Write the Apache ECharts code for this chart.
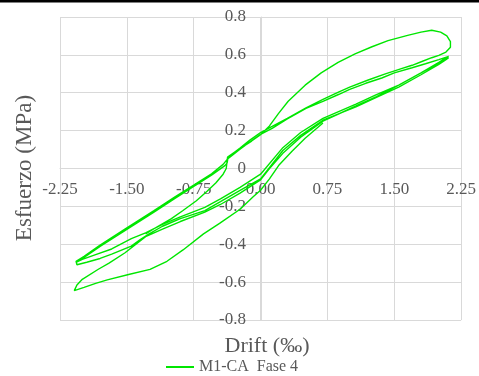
<!DOCTYPE html>
<html>
<head>
<meta charset="utf-8">
<script src="https://cdn.jsdelivr.net/npm/echarts@6/dist/echarts.min.js"></script>
<style>html,body{margin:0;padding:0;background:#fff;}#c{width:479px;height:376px;}</style>
</head>
<body>
<div id="c"></div>
<script>
// Tick settings
const xTicks = [-2.25, -1.50, -0.75, 0.00, 0.75, 1.50, 2.25];
const yTicks = [-0.8, -0.6, -0.4, -0.2, 0, 0.2, 0.4, 0.6, 0.8];
const seriesName = 'M1-CA  Fase 4';

// Hysteresis path segments [drift (‰), stress (MPa)]
const segStart = [[-1.29,-0.345],[-1.15,-0.305],[-1.0,-0.265],[-0.87,-0.222],[-0.72,-0.17],[-0.6,-0.12],[-0.5,-0.075],[-0.42,-0.03],[-0.385,0.0],[-0.378,0.03]];
const segTop = [[-0.37,0.06],[-0.25,0.1],[-0.1,0.145],[0.0,0.178],[0.1,0.225],[0.2,0.29],[0.31,0.355],[0.5,0.44],[0.68,0.505],[0.87,0.56],[1.06,0.605],[1.25,0.643],[1.43,0.675],[1.65,0.703],[1.8,0.72],[1.92,0.73],[2.02,0.72],[2.09,0.70],[2.13,0.67],[2.13,0.64],[2.08,0.615],[2.0,0.597]];
const segMid1 = [[1.92,0.585],[1.81,0.565],[1.7,0.545],[1.58,0.527],[1.4,0.5],[1.2,0.466],[1.0,0.43],[0.88,0.405],[0.7,0.365],[0.51,0.32],[0.3,0.265],[0.13,0.222],[0.0,0.19],[-0.12,0.15],[-0.234,0.107],[-0.33,0.072],[-0.365,0.058],[-0.375,0.03]];
const segUp1 = [[-0.40,0.015],[-0.55,-0.035],[-0.75,-0.095],[-0.96,-0.158],[-1.2,-0.232],[-1.5,-0.322],[-1.8,-0.412],[-1.98,-0.47],[-2.07,-0.495],[-2.09,-0.505]];
const segLensA = [[-2.05,-0.5],[-2.0,-0.48],[-1.85,-0.455],[-1.67,-0.425],[-1.45,-0.37],[-1.29,-0.34],[-1.1,-0.295],[-0.9,-0.255],[-0.625,-0.205],[-0.45,-0.16],[-0.23,-0.1],[0.0,-0.03],[0.25,0.11],[0.45,0.19],[0.7,0.265],[1.07,0.34],[1.3,0.39],[1.55,0.44],[1.8,0.505],[2.0,0.56],[2.08,0.585],[2.11,0.592]];
const segMid2 = [[2.09,0.59],[2.0,0.575],[1.85,0.553],[1.7,0.532],[1.5,0.505],[1.36,0.478],[1.18,0.45],[1.0,0.418],[0.88,0.392],[0.7,0.355],[0.51,0.318],[0.3,0.262],[0.13,0.212],[0.0,0.18],[-0.12,0.14],[-0.234,0.1],[-0.33,0.065],[-0.37,0.05]];
const segUp2 = [[-0.42,0.022],[-0.55,-0.028],[-0.75,-0.088],[-0.96,-0.15],[-1.2,-0.224],[-1.5,-0.314],[-1.8,-0.404],[-1.98,-0.464],[-2.07,-0.49],[-2.09,-0.5]];
const segLensB = [[-2.06,-0.508],[-1.95,-0.495],[-1.8,-0.475],[-1.67,-0.452],[-1.45,-0.41],[-1.35,-0.375],[-1.25,-0.345],[-1.1,-0.305],[-0.9,-0.265],[-0.625,-0.222],[-0.45,-0.175],[-0.23,-0.115],[0.0,-0.055],[0.25,0.095],[0.45,0.175],[0.7,0.255],[1.07,0.325],[1.3,0.375],[1.55,0.43],[1.8,0.495],[2.0,0.55],[2.08,0.575],[2.11,0.585]];
const segDown = [[2.07,0.575],[2.0,0.557],[1.8,0.505],[1.55,0.44],[1.3,0.38],[1.07,0.33],[0.7,0.25],[0.45,0.165],[0.25,0.08],[0.1,0.0],[0.0,-0.06],[-0.23,-0.13],[-0.45,-0.19],[-0.625,-0.23],[-0.9,-0.28],[-1.1,-0.32],[-1.29,-0.36],[-1.52,-0.445],[-1.7,-0.5],[-1.82,-0.532],[-2.0,-0.585],[-2.06,-0.615],[-2.09,-0.645]];
const segBottom = [[-2.08,-0.648],[-1.98,-0.628],[-1.85,-0.607],[-1.72,-0.588],[-1.48,-0.56],[-1.24,-0.533],[-1.05,-0.49],[-0.87,-0.43],[-0.64,-0.345],[-0.46,-0.29],[-0.23,-0.215],[-0.086,-0.15],[0.0,-0.115],[0.1,-0.055],[0.21,0.02],[0.35,0.09],[0.5,0.16],[0.7,0.24]];

const pathData = [].concat(segStart, segTop, segMid1, segUp1, segLensA, segMid2, segUp2, segLensB, segDown, segBottom);

const FONT = 'Liberation Serif';
const GRAY = '#595959';
const GREEN = '#00e600';
const GRID = {left: 60, right: 17, top: 17, bottom: 56};
const W = 479, H = 376;
// axes cross at zero: compute offsets from the grid geometry and axis ranges
const plotW = W - GRID.left - GRID.right, plotH = H - GRID.top - GRID.bottom;
const xMin = xTicks[0], xMax = xTicks[xTicks.length-1];
const yMin = yTicks[0], yMax = yTicks[yTicks.length-1];
const yZeroFromBottom = (0 - yMin) / (yMax - yMin) * plotH;
const xZeroFromLeft = (0 - xMin) / (xMax - xMin) * plotW;

const chart = echarts.init(document.getElementById('c'), null, {renderer: 'canvas'});
chart.setOption({
  animation: false,
  backgroundColor: '#ffffff',
  grid: Object.assign({containLabel: false}, GRID),
  xAxis: {
    type: 'value', min: xMin, max: xMax, interval: 0.75,
    position: 'bottom', offset: -yZeroFromBottom,
    axisLine: {show: true, onZero: false, lineStyle: {color: '#d9d9d9', width: 1}},
    axisTick: {show: false},
    splitLine: {show: true, lineStyle: {color: '#d9d9d9', width: 1}},
    axisLabel: {margin: 13, color: GRAY, fontFamily: FONT, fontSize: 17,
      formatter: v => v.toFixed(2)}
  },
  yAxis: {
    type: 'value', min: yMin, max: yMax, interval: 0.2,
    position: 'left', offset: -xZeroFromLeft,
    axisLine: {show: true, onZero: false, lineStyle: {color: '#d9d9d9', width: 1}},
    axisTick: {show: false},
    splitLine: {show: true, lineStyle: {color: '#d9d9d9', width: 1}},
    axisLabel: {margin: 15, color: GRAY, fontFamily: FONT, fontSize: 17,
      formatter: v => Math.abs(v) < 1e-9 ? '0' : v.toFixed(1)}
  },
  legend: {
    left: 166, top: 359, padding: 0, itemWidth: 28, itemHeight: 2, itemGap: 5,
    icon: 'rect',
    itemStyle: {color: GREEN},
    textStyle: {color: GRAY, fontFamily: FONT, fontSize: 16},
    data: [seriesName]
  },
  graphic: [
    {type: 'rect', shape: {x: 0, y: 0, width: 479, height: 2.5}, style: {fill: '#000'}, silent: true},
    {type: 'text', x: 25, y: 168, rotation: Math.PI/2,
      style: {text: 'Esfuerzo (MPa)', fill: GRAY, font: '23px "Liberation Serif"', align: 'center', verticalAlign: 'middle'}},
    {type: 'text', x: 267, y: 346,
      style: {text: 'Drift (‰)', fill: GRAY, font: '22px "Liberation Serif"', align: 'center', verticalAlign: 'middle'}}
  ],
  series: [{
    name: seriesName, type: 'line', data: pathData,
    symbol: 'none', showSymbol: false, smooth: false,
    lineStyle: {color: GREEN, width: 1.4}, itemStyle: {color: GREEN}
  }]
});
</script>
</body>
</html>
